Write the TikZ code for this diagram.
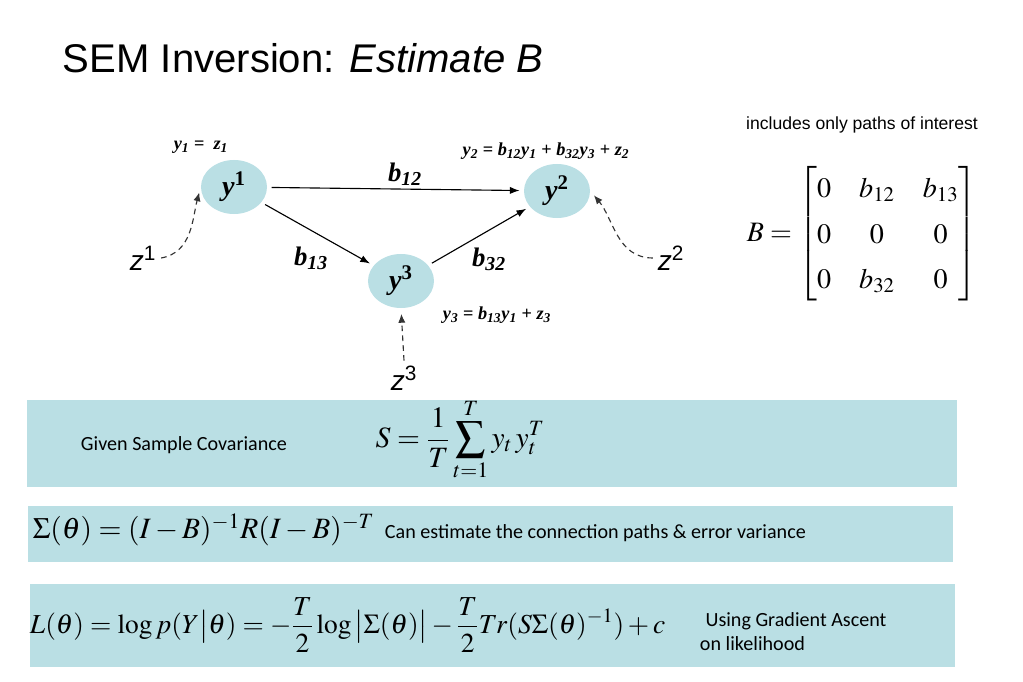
\documentclass[tikz,border=0pt]{standalone}
\usepackage{amsmath}
\usepackage{mathptmx}
\usepackage{fontspec}
\setmainfont{Liberation Serif}
\setsansfont{Liberation Sans}
\newfontfamily\calfont{Carlito}
\usetikzlibrary{arrows.meta, positioning, shapes.geometric}
\definecolor{paleblue}{RGB}{186,223,228}
\newcommand{\bvar}[2]{\textbf{\textit{#1}}\textsuperscript{\textbf{#2}}}
\newcommand{\bsub}[2]{\textbf{\textit{#1\textsubscript{#2}}}}

\begin{document}
\begin{tikzpicture}[x=0.025cm, y=-0.025cm, var/.style={ellipse, fill=paleblue, minimum width=1.65cm, minimum height=1.35cm, inner sep=0pt, font=\fontsize{20}{22}\selectfont},path/.style={-{Latex[length=2.4mm, width=1.8mm]}, thick, shorten <=3pt, shorten >=3pt},noise/.style={-{Latex[length=2.2mm, width=1.8mm]}, thick, dash pattern=on 4pt off 3pt, black!80, shorten >=4pt},coef/.style={font=\fontsize{19}{21}\selectfont},eqn/.style={font=\fontsize{13}{15}\selectfont},panel/.style={fill=paleblue, inner sep=0pt},note/.style={font=\calfont\fontsize{14.3}{17}\selectfont, align=left},zlab/.style={font=\sffamily\itshape\fontsize{20}{22}\selectfont}]
\useasboundingbox (0,0) rectangle (1023,682);
\node[anchor=west, font=\sffamily\fontsize{28.5}{34}\selectfont] (title) at (58,58) {SEM Inversion: \textit{Estimate B}};
\node[var] (y1) at (234,187) {\bvar{y}{1}};
\node[var] (y2) at (557,191) {\bvar{y}{2}};
\node[var] (y3) at (401,281) {\bvar{y}{3}};
\draw[path] (y1) -- (y2);\draw[path] (y1) -- (y3);\draw[path] (y3) -- (y2);
\node[coef] (b12) at (405,174) {\bsub{b}{12}};
\node[coef] (b13) at (311,258) {\bsub{b}{13}};
\node[coef] (b32) at (489,259) {\bsub{b}{32}};
\node[eqn] (eq1) at (201,147) {\bsub{y}{1} \textbf{=}\ \ \bsub{z}{1}};
\node[eqn] (eq2) at (546,151) {\bsub{y}{2}\textbf{ = }\bsub{b}{12}\bsub{y}{1}\textbf{ + }\bsub{b}{32}\bsub{y}{3}\textbf{ + }\bsub{z}{2}};
\node[eqn] (eq3) at (497,315) {\bsub{y}{3}\textbf{ = }\bsub{b}{13}\bsub{y}{1}\textbf{ + }\bsub{z}{3}};
\node[zlab] (z1) at (143,258) {z\textsuperscript{\upshape 1}};
\node[zlab] (z2) at (671,258) {z\textsuperscript{\upshape 2}};
\node[zlab] (z3) at (404,378) {z\textsuperscript{\upshape 3}};
\draw[noise] (z1.east) to[out=10, in=-105] (y1.west);
\draw[noise] (z2.west) to[out=180, in=-50] (y2.east);
\draw[noise] (z3.north) -- (y3.south);
\node[font=\sffamily\fontsize{12.5}{15}\selectfont] (hint) at (862,125) {includes only paths of interest};
\node[font=\fontsize{20}{24}\selectfont] (Bmat) at (862,234) {\setlength\arraycolsep{10pt}\renewcommand{\arraystretch}{1.35}$B=\begin{bmatrix}0 & b_{12} & b_{13}\\ 0 & 0 & 0\\ 0 & b_{32} & 0\end{bmatrix}$};
\node[panel, minimum width=23.25cm, minimum height=2.175cm] (panel1) at (492,443.5) {};
\node[panel, minimum width=23.125cm, minimum height=1.4cm] (panel2) at (490.5,534) {};
\node[panel, minimum width=23.125cm, minimum height=2.075cm] (panel3) at (492.5,625.5) {};
\node[note, anchor=west] (given) at (76,445) {Given Sample Covariance};
\node[font=\fontsize{21}{24}\selectfont] (covS) at (460,440) {$\displaystyle S=\frac{1}{T}\sum_{t=1}^{T} y_t\, y_t^T$};
\node[font=\fontsize{21}{24}\selectfont, anchor=west] (sigma) at (28,530) {$\Sigma(\theta)=(I-B)^{-1}R(I-B)^{-T}$};
\node[note, anchor=west] (estim) at (380,533) {Can estimate the connection paths \& error variance};
\node[font=\fontsize{19.5}{22}\selectfont, anchor=west] (lik) at (25,625) {$\displaystyle L(\theta)=\log p(Y\big|\theta)=-\frac{T}{2}\log\big|\Sigma(\theta)\big|-\frac{T}{2}Tr(S\Sigma(\theta)^{-1})+c$};
\node[note, anchor=west] (ascent) at (695,632) {\hspace*{4pt}Using Gradient Ascent\\on likelihood};
\end{tikzpicture}
\end{document}
